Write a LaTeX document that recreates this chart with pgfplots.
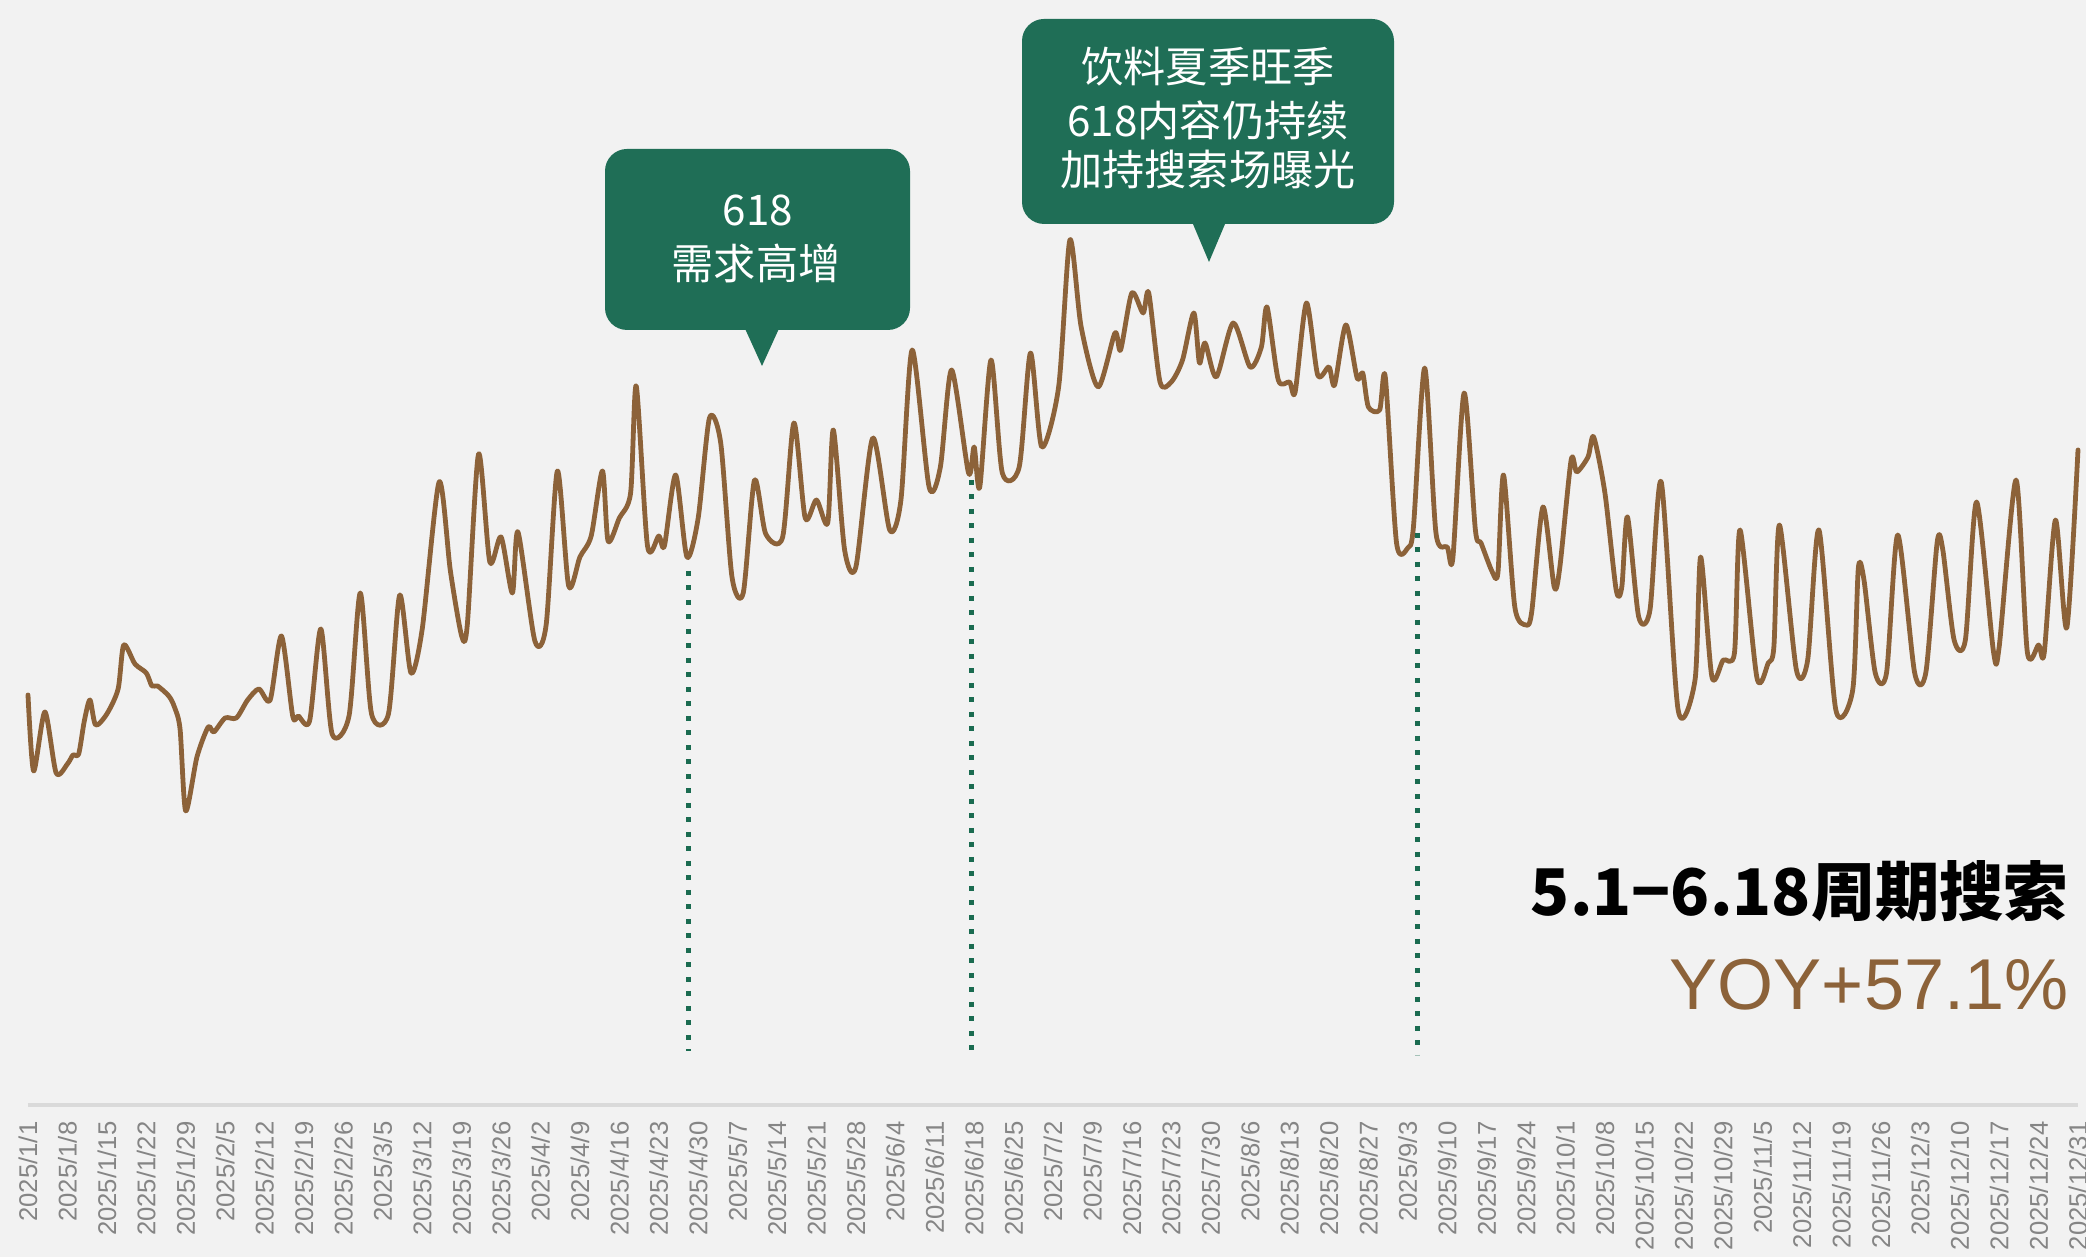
\documentclass[border=0pt]{standalone}
\usepackage{pgfplots}
\pgfplotsset{compat=1.18}
\usepackage{pgfplotstable}
\usepackage{fontspec}
\setmainfont{Liberation Sans}
\newfontfamily\cjk{Noto Sans CJK SC}
\definecolor{bgc}{HTML}{F2F2F2}
\definecolor{brownline}{HTML}{8C6239}
\definecolor{boxgreen}{HTML}{1F6E56}
\definecolor{dotgreen}{HTML}{1A6B50}
\definecolor{labelgray}{HTML}{858585}
\definecolor{axisgray}{HTML}{DADADA}

\pgfplotstableread{
d v
0 155
1 79
3 138
5 77
7 86
8 95
9 96
10 129
11 150
12 125
14 136
16 161
17 205
19 186
21 177
22 164
23 164
25 154
26 143
27 121
28 39
30 93
32 123
33 118
35 132
37 132
39 150
41 161
43 150
45 214
47 134
48 134
50 129
52 221
54 116
57 134
59 257
61 136
64 136
66 255
68 177
70 221
73 368
75 279
77 214
78 225
80 396
82 288
84 313
86 257
87 318
90 209
92 225
94 379
96 264
98 293
100 314
102 379
103 309
105 332
107 357
108 464
110 304
112 314
113 304
115 375
117 293
119 332
121 432
123 407
125 273
127 257
129 370
131 316
134 313
136 427
138 332
140 350
142 327
143 420
145 300
147 283
150 412
153 320
155 350
157 500
160 363
162 383
164 480
167 377
168 403
169 363
171 490
173 377
176 383
178 497
180 403
183 463
185 610
187 523
190 463
193 517
194 500
196 557
198 537
199 557
201 468
203 468
205 490
207 537
208 487
209 507
211 473
214 527
217 483
219 503
220 543
222 470
224 468
225 458
227 547
229 475
231 483
232 465
234 525
236 472
237 477
238 443
240 440
241 473
243 307
245 302
246 323
248 482
250 317
252 303
253 292
255 457
257 320
258 307
260 278
261 277
262 375
264 243
266 225
267 238
269 343
271 263
272 283
274 390
275 378
277 393
278 413
280 357
282 260
283 263
284 333
286 233
288 240
290 368
293 140
296 170
297 293
299 173
301 190
303 197
304 320
307 172
309 187
310 203
311 325
314 180
316 190
318 320
321 140
324 160
325 282
326 270
328 177
330 177
332 315
335 177
337 178
339 308
340 300
342 210
344 210
346 348
349 198
350 203
353 370
355 198
357 205
358 197
360 330
362 222
364 400
}\series

\begin{document}
\begin{tikzpicture}
\fill[bgc] (0,0) rectangle (208.6mm,125.7mm);
\begin{axis}[
  at={(2.8mm,15.2mm)}, anchor=south west,
  scale only axis, width=205mm, height=90.5mm,
  xmin=0, xmax=364, ymin=-255, ymax=650,
  axis x line=bottom, axis y line=none,
  x axis line style={draw=axisgray, line width=0.35mm, -},
  xtick={0,7,...,364},
  xticklabels={2025/1/1,2025/1/8,2025/1/15,2025/1/22,2025/1/29,2025/2/5,2025/2/12,2025/2/19,2025/2/26,2025/3/5,2025/3/12,2025/3/19,2025/3/26,2025/4/2,2025/4/9,2025/4/16,2025/4/23,2025/4/30,2025/5/7,2025/5/14,2025/5/21,2025/5/28,2025/6/4,2025/6/11,2025/6/18,2025/6/25,2025/7/2,2025/7/9,2025/7/16,2025/7/23,2025/7/30,2025/8/6,2025/8/13,2025/8/20,2025/8/27,2025/9/3,2025/9/10,2025/9/17,2025/9/24,2025/10/1,2025/10/8,2025/10/15,2025/10/22,2025/10/29,2025/11/5,2025/11/12,2025/11/19,2025/11/26,2025/12/3,2025/12/10,2025/12/17,2025/12/24,2025/12/31},
  x tick label style={rotate=90, anchor=east, font=\fontsize{7.3}{8}\selectfont, text=labelgray, inner sep=0pt, xshift=-1.6mm},
  major tick length=0pt,
  xtick style={draw=none},
  clip=false,
]
\addplot[draw=brownline, line width=0.48mm, line join=round, line cap=round, smooth, tension=0.45] table[x=d, y=v] {\series};
\addplot[draw=dotgreen, line width=0.5mm, dash pattern=on 0.5mm off 0.95mm] coordinates {(117.2,279) (117.2,-201)};
\addplot[draw=dotgreen, line width=0.5mm, dash pattern=on 0.5mm off 0.95mm] coordinates {(167.5,370) (167.5,-205)};
\addplot[draw=dotgreen, line width=0.5mm, dash pattern=on 0.5mm off 0.95mm] coordinates {(246.7,317) (246.7,-205)};
\end{axis}
% callout 1
\fill[boxgreen, rounded corners=2.2mm] (60.5mm,92.7mm) rectangle (91.0mm,110.8mm);
\fill[boxgreen] (74.2mm,93.5mm) -- (78.2mm,93.5mm) -- (76.2mm,89.1mm) -- cycle;
\node[text=white, font=\cjk\fontsize{12}{14}\selectfont] at (75.8mm,104.7mm) {618};
\node[text=white, font=\cjk\fontsize{12}{14}\selectfont] at (75.6mm,99.4mm) {需求高增};
% callout 2
\fill[boxgreen, rounded corners=2.2mm] (102.2mm,103.3mm) rectangle (139.4mm,123.8mm);
\fill[boxgreen] (119.0mm,104.0mm) -- (122.8mm,104.0mm) -- (120.9mm,99.5mm) -- cycle;
\node[text=white, font=\cjk\fontsize{12}{14}\selectfont] at (120.8mm,119.0mm) {饮料夏季旺季};
\node[text=white, font=\cjk\fontsize{12}{14}\selectfont] at (120.8mm,113.7mm) {618内容仍持续};
\node[text=white, font=\cjk\fontsize{12}{14}\selectfont] at (120.8mm,108.7mm) {加持搜索场曝光};
% right text
\node[anchor=east, inner sep=0pt, font=\cjk\bfseries\fontsize{18.3}{22}\selectfont] at (206.9mm,36.6mm) {5.1−6.18周期搜索};
\node[anchor=east, inner sep=0pt, text=brownline, font=\fontsize{20.5}{24}\selectfont] at (206.9mm,27.2mm) {YOY+57.1\%};
\pgfresetboundingbox
\useasboundingbox (0,0) rectangle (208.6mm,125.7mm);
\end{tikzpicture}
\end{document}
